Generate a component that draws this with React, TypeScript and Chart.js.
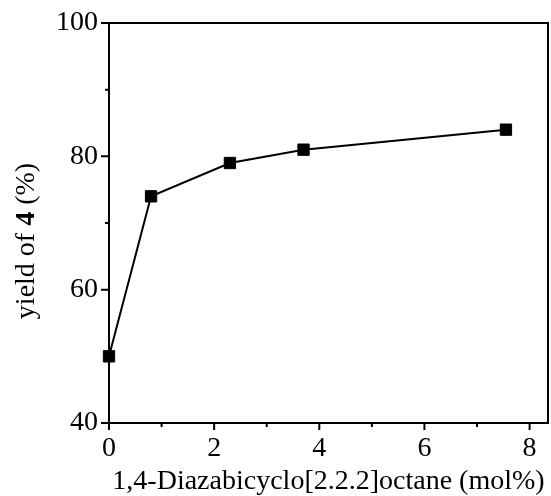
import React, { useEffect, useRef } from 'react';
import { Chart, registerables } from 'chart.js';
Chart.register(...registerables);

const catalystMol = [0, 0.8, 2.3, 3.7, 7.55];
const yieldPct = [50, 74, 79, 81, 84];
const xMajorTicks = [0, 2, 4, 6, 8];
const xMinorTicks = [1, 3, 5, 7];
const yMajorTicks = [40, 60, 80, 100];
const yMinorTicks = [50, 70, 90];
const xTitle = '1,4-Diazabicyclo[2.2.2]octane (mol%)';
const yTitleParts = [
  { text: 'yield of ', bold: false },
  { text: '4', bold: true },
  { text: ' (%)', bold: false },
];

const FONT = '"Liberation Serif", "Times New Roman", serif';
const FONT_SIZE = 28;

const axesPlugin = {
  id: 'axesBox',
  beforeDatasetsDraw(chart: any) {
    const { ctx, chartArea: a, scales } = chart;
    const xs = scales.x;
    const ys = scales.y;
    ctx.save();
    ctx.strokeStyle = '#000';
    ctx.lineWidth = 2;
    ctx.strokeRect(a.left, a.top, a.right - a.left, a.bottom - a.top);
    ctx.beginPath();
    yMajorTicks.forEach((v) => {
      const y = ys.getPixelForValue(v);
      ctx.moveTo(a.left - 8, y);
      ctx.lineTo(a.left, y);
    });
    yMinorTicks.forEach((v) => {
      const y = ys.getPixelForValue(v);
      ctx.moveTo(a.left - 4, y);
      ctx.lineTo(a.left, y);
    });
    xMajorTicks.forEach((v) => {
      const x = xs.getPixelForValue(v);
      ctx.moveTo(x, a.bottom);
      ctx.lineTo(x, a.bottom + 7);
    });
    xMinorTicks.forEach((v) => {
      const x = xs.getPixelForValue(v);
      ctx.moveTo(x, a.bottom);
      ctx.lineTo(x, a.bottom + 4);
    });
    ctx.stroke();

    // y-axis title with mixed weights
    const fontOf = (b: boolean) => `${b ? 'bold ' : ''}${FONT_SIZE}px ${FONT}`;
    let total = 0;
    const widths = yTitleParts.map((p) => {
      ctx.font = fontOf(p.bold);
      const w = ctx.measureText(p.text).width;
      total += w;
      return w;
    });
    ctx.translate(27, (a.top + a.bottom) / 2 + 18);
    ctx.rotate(-Math.PI / 2);
    ctx.fillStyle = '#000';
    ctx.textBaseline = 'middle';
    ctx.textAlign = 'left';
    let cx = -total / 2;
    yTitleParts.forEach((p, i) => {
      ctx.font = fontOf(p.bold);
      ctx.fillText(p.text, cx, 0);
      cx += widths[i];
    });
    ctx.restore();
  },
};

export default function App() {
  const ref = useRef<HTMLCanvasElement>(null);
  useEffect(() => {
    if (!ref.current) return;
    const chart = new Chart(ref.current, {
      type: 'line',
      data: {
        datasets: [
          {
            data: catalystMol.map((x, i) => ({ x, y: yieldPct[i] })),
            borderColor: '#000',
            borderWidth: 2,
            backgroundColor: '#000',
            pointStyle: 'rect',
            pointRadius: 8,
            pointBorderWidth: 1,
            pointBorderColor: '#000',
            pointBackgroundColor: '#000',
            tension: 0,
            clip: false as any,
          },
        ],
      },
      options: {
        animation: false,
        responsive: true,
        maintainAspectRatio: false,
        layout: { autoPadding: false, padding: { top: 23, right: 3, left: 0, bottom: 0 } },
        plugins: { legend: { display: false }, tooltip: { enabled: false } },
        scales: {
          x: {
            type: 'linear',
            min: 0,
            max: 8.35,
            grid: { display: false, drawTicks: false },
            border: { display: false },
            afterBuildTicks: (s: any) => {
              s.ticks = xMajorTicks.map((v) => ({ value: v }));
            },
            afterFit: (s: any) => {
              s.height = 73;
              s.paddingLeft = 0;
              s.paddingRight = 0;
            },
            ticks: {
              color: '#000',
              padding: 9,
              font: { family: FONT, size: FONT_SIZE },
              maxRotation: 0,
            },
            title: {
              display: true,
              text: xTitle,
              color: '#000',
              font: { family: FONT, size: FONT_SIZE },
              padding: { top: 0, bottom: -2 },
            },
          },
          y: {
            type: 'linear',
            min: 40,
            max: 100,
            grid: { display: false, drawTicks: false },
            border: { display: false },
            afterBuildTicks: (s: any) => {
              s.ticks = yMajorTicks.map((v) => ({ value: v }));
            },
            afterFit: (s: any) => {
              s.width = 109;
              s.paddingTop = 0;
              s.paddingBottom = 0;
            },
            ticks: {
              color: '#000',
              padding: 11,
              font: { family: FONT, size: FONT_SIZE },
            },
          },
        },
      },
      plugins: [axesPlugin],
    });
    return () => chart.destroy();
  }, []);
  return (
    <div style={{ position: 'fixed', left: 0, top: 0, width: 551, height: 496, background: '#fff' }}>
      <canvas ref={ref} />
    </div>
  );
}
